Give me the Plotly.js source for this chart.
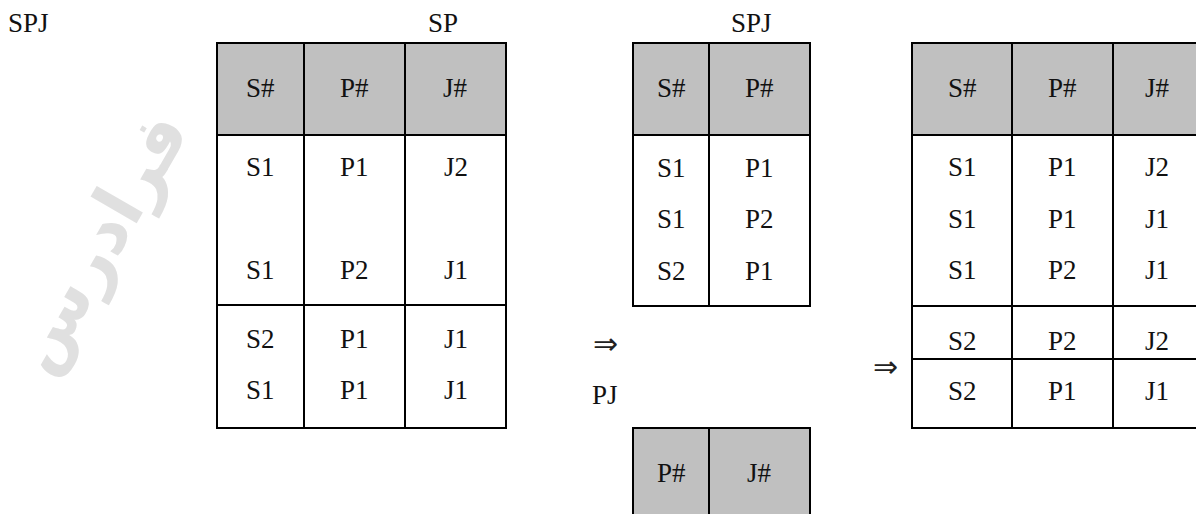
<!DOCTYPE html>
<html>
<head>
<meta charset="utf-8">
<script src="https://cdn.plot.ly/plotly-3.0.1.min.js"></script>
<style>
html,body{margin:0;padding:0;background:#fff;}
#chart{width:1196px;height:514px;}
</style>
</head>
<body>
<div id="chart"></div>
<script>
// ---------- DATA ----------
const spHeaders = ["S#", "P#", "J#"];
const spRows = [["S1", "P1", "J2"], ["S1", "P2", "J1"], ["S2", "P1", "J1"], ["S1", "P1", "J1"]];
const spjHeaders = ["S#", "P#"];
const spjRows = [["S1", "P1"], ["S1", "P2"], ["S2", "P1"]];
const pjHeaders = ["P#", "J#"];
const pjRows = [];
const resultHeaders = ["S#", "P#", "J#"];
const resultRows = [["S1", "P1", "J2"], ["S1", "P1", "J1"], ["S1", "P2", "J1"], ["S2", "P2", "J2"], ["S2", "P1", "J1"]];
const labelTexts = ["SPJ", "SP", "SPJ", "PJ"];
const arrowText = "\u21D2";
const watermarkText = "فرادرس";

// ---------- GEOMETRY / STYLE ----------
const W = 1196, H = 514;
const FONT = {family: "'Liberation Serif', 'Times New Roman', serif", size: 27, color: "#111"};
const HEADER_FILL = "#c0c0c0";
const LINE = {color: "#000", width: 2};

const geoms = [
  {cols: [217, 304, 405, 506], top: 43, headBottom: 135, dividers: [305], bottom: 428, headY: 88, rowY: [167, 270, 339, 390]},
  {cols: [633, 709, 810], top: 43, headBottom: 135, dividers: [], bottom: 306, headY: 88, rowY: [168, 219, 271]},
  {cols: [633, 709, 810], top: 428, headBottom: 560, dividers: [], bottom: 600, headY: 473, rowY: []},
  {cols: [912, 1012, 1113, 1201], top: 43, headBottom: 135, dividers: [306, 359], bottom: 428, headY: 88, rowY: [167, 219, 270, 341, 391]}
];
const tables = [
  {headers: spHeaders, rows: spRows},
  {headers: spjHeaders, rows: spjRows},
  {headers: pjHeaders, rows: pjRows},
  {headers: resultHeaders, rows: resultRows}
];
const labelPos = [{x: 6, y: 23, anchor: "left"}, {x: 443, y: 23, anchor: "center"}, {x: 751, y: 23, anchor: "center"}, {x: 605, y: 395, anchor: "center"}];
const arrowPos = [{x: 605, y: 343}, {x: 885, y: 366}];

const shapes = [];
const annotations = [];

function txt(x, y, t, anchor, extra) {
  annotations.push(Object.assign({
    x: x, y: y, xref: "x", yref: "y", text: t, showarrow: false,
    xanchor: anchor || "center", yanchor: "middle", font: FONT
  }, extra || {}));
}

tables.forEach(function (tb, i) {
  const g = geoms[i];
  const x0 = g.cols[0], x1 = g.cols[g.cols.length - 1];
  shapes.push({type: "rect", xref: "x", yref: "y", x0: x0, x1: x1, y0: g.top, y1: g.headBottom,
    fillcolor: HEADER_FILL, line: {width: 0}, layer: "below"});
  shapes.push({type: "rect", xref: "x", yref: "y", x0: x0, x1: x1, y0: g.top, y1: g.bottom, line: LINE});
  for (let c = 1; c < g.cols.length - 1; c++) {
    shapes.push({type: "line", xref: "x", yref: "y", x0: g.cols[c], x1: g.cols[c], y0: g.top, y1: g.bottom, line: LINE});
  }
  [g.headBottom].concat(g.dividers).forEach(function (yy) {
    shapes.push({type: "line", xref: "x", yref: "y", x0: x0, x1: x1, y0: yy, y1: yy, line: LINE});
  });
  tb.headers.forEach(function (h, c) {
    txt((g.cols[c] + g.cols[c + 1]) / 2, g.headY, h);
  });
  tb.rows.forEach(function (row, r) {
    row.forEach(function (v, c) {
      txt((g.cols[c] + g.cols[c + 1]) / 2, g.rowY[r], v);
    });
  });
});

labelTexts.forEach(function (t, i) {
  txt(labelPos[i].x, labelPos[i].y, t, labelPos[i].anchor);
});
arrowPos.forEach(function (p) {
  txt(p.x, p.y, arrowText, "center", {font: {family: "'DejaVu Sans', sans-serif", size: 30, weight: 200, color: "#222"}});
});

// watermark
annotations.push({x: 98, y: 242, xref: "x", yref: "y", text: watermarkText, showarrow: false,
  xanchor: "center", yanchor: "middle", textangle: -60,
  font: {family: "'DejaVu Sans', sans-serif", size: 70, weight: "bold", color: "#e0e0e0"}});

const layout = {
  width: W, height: H,
  margin: {l: 0, r: 0, t: 0, b: 0, pad: 0},
  paper_bgcolor: "#fff", plot_bgcolor: "#fff",
  showlegend: false,
  xaxis: {range: [0, W], visible: false, fixedrange: true},
  yaxis: {range: [H, 0], visible: false, fixedrange: true},
  shapes: shapes,
  annotations: annotations
};

Plotly.newPlot("chart", [], layout, {staticPlot: true, displayModeBar: false});
</script>
</body>
</html>
